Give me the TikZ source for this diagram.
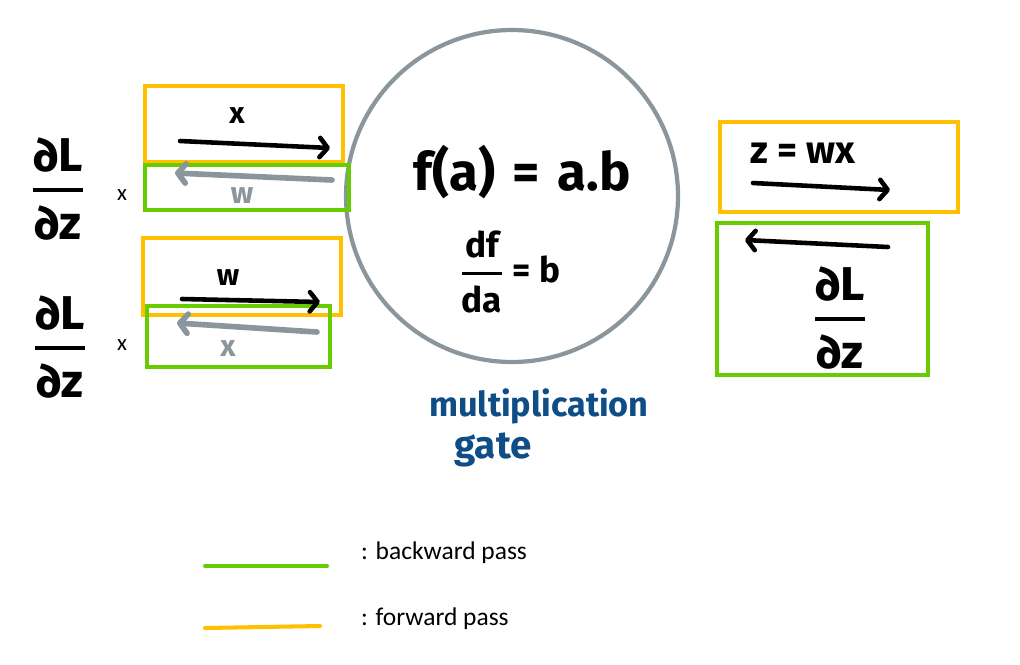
\documentclass[tikz,border=0pt]{standalone}
\usepackage{fontspec}
\setmainfont{Carlito}
\newfontfamily\handfont{Fira Sans}
\usetikzlibrary{arrows.meta}
\newcommand{\pxu}{0.02cm}
\newcommand{\dldz}{$\displaystyle{\mbox{\handfont\bfseries ∂L}\above 2.6pt\mbox{\handfont\bfseries ∂z}}$}
\definecolor{fwdorange}{HTML}{FFC000}
\definecolor{bwdgreen}{HTML}{66CC00}
\definecolor{gategray}{HTML}{8A969B}
\definecolor{gateblue}{HTML}{0E4D85}
\tikzset{
  fwdbox/.style={draw=fwdorange, line width=2.2pt, inner sep=0pt},
  bwdbox/.style={draw=bwdgreen, line width=2.2pt, inner sep=0pt},
  pass/.style={line width=2.6pt, line cap=round, -{Straight Barb[length=4.5pt,width=11pt,round]}},
  hand/.style={font=\handfont\bfseries\fontsize{17}{20}\selectfont},
  grad/.style={font=\fontsize{27}{32}\selectfont},
}
\begin{document}
\begin{tikzpicture}[x=0.02cm, y=-0.02cm]
  \useasboundingbox (0,0) rectangle (1020,664);
  % gate
  \node[circle, draw=gategray, line width=2.4pt, minimum size=332*\pxu] (gate) at (512,196) {};
  \draw
    (522,172) node[hand, font=\handfont\bfseries\fontsize{30}{34}\selectfont] (fab){f(a)\,\,=\,\,a.b}
    (510,272) node[hand, font=\handfont\bfseries\fontsize{20}{24}\selectfont] (dfda){$\displaystyle{\mbox{df}\above 2pt\mbox{da}}$ = b}
    (539,406) node[hand, text=gateblue, font=\handfont\bfseries\fontsize{19.5}{23}\selectfont] (mult){multiplication}
    (493,450) node[hand, text=gateblue, font=\handfont\bfseries\fontsize{22}{26}\selectfont] (gname){gate};
  % boxes
  \draw
    (244,124) node[fwdbox, minimum width=198*\pxu, minimum height=76*\pxu] (fx){}
    (242,276.5) node[fwdbox, minimum width=198*\pxu, minimum height=77*\pxu] (fw){}
    (839,167) node[fwdbox, minimum width=238*\pxu, minimum height=90*\pxu] (fz){}
    (247,187.5) node[bwdbox, minimum width=204*\pxu, minimum height=45*\pxu] (bw){}
    (238.5,336.5) node[bwdbox, minimum width=183*\pxu, minimum height=61*\pxu] (bx){}
    (822.5,299) node[bwdbox, minimum width=211*\pxu, minimum height=152*\pxu] (bz){};
  % labels
  \draw
    (237,116) node[hand] (lx){x}
    (242,196) node[hand, text=gategray] (lw){w}
    (228,278) node[hand] (lw2){w}
    (228,349) node[hand, text=gategray] (lx2){x}
    (803,153) node[hand, font=\handfont\bfseries\fontsize{22}{26}\selectfont] (lz){z = wx}
    (58,189) node[grad] (dldz1){\dldz}
    (60,347) node[grad] (dldz2){\dldz}
    (840,318) node[grad] (dldz3){\dldz}
    (122,195) node[font=\fontsize{13}{15}\selectfont] (t1){x}
    (122,345) node[font=\fontsize{13}{15}\selectfont] (t2){x};
  % pass arrows
  \coordinate (x-s) at (180,141); \coordinate (x-e) at (330,148);
  \coordinate (w-s) at (332,180); \coordinate (w-e) at (175,173);
  \coordinate (w2-s) at (182,299); \coordinate (w2-e) at (320,302);
  \coordinate (x2-s) at (317,332); \coordinate (x2-e) at (177,323);
  \coordinate (z-s) at (753,183); \coordinate (z-e) at (890,190);
  \coordinate (g-s) at (888,247); \coordinate (g-e) at (745,240);
  \begin{scope}[pass]
    \draw (x-s) to (x-e);
    \draw[gategray, line width=3.2pt] (w-s) to (w-e);
    \draw (w2-s) to (w2-e);
    \draw[gategray, line width=3.2pt] (x2-s) to (x2-e);
    \draw (z-s) to (z-e);
    \draw (g-s) to (g-e);
  \end{scope}
  % legend
  \coordinate (bk-s) at (205,566); \coordinate (bk-e) at (327,566);
  \coordinate (fw-s) at (205,628); \coordinate (fw-e) at (320,626);
  \draw[bwdgreen, line width=2.3pt, line cap=round] (bk-s) -- (bk-e);
  \draw[fwdorange, line width=2.3pt, line cap=round] (fw-s) -- (fw-e);
  \draw
    (355,553) node[anchor=west, font=\fontsize{14.5}{17}\selectfont] (bklab){: backward pass}
    (355,619) node[anchor=west, font=\fontsize{14.5}{17}\selectfont] (fwlab){: forward pass};
\end{tikzpicture}
\end{document}
